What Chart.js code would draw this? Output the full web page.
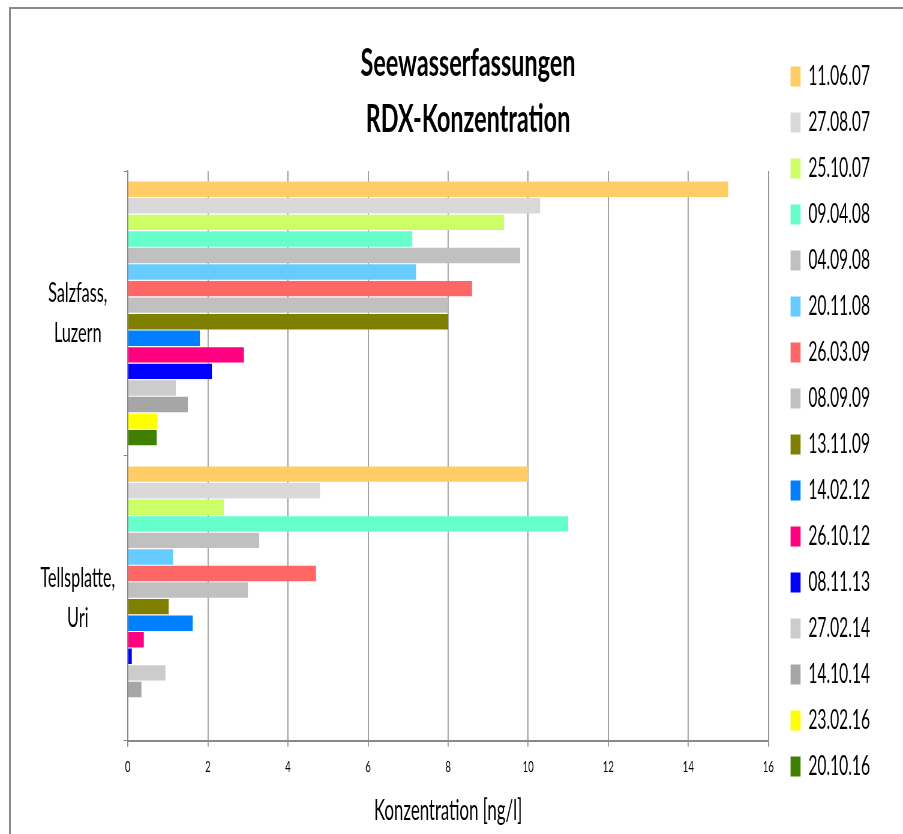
<!DOCTYPE html>
<html>
<head>
<meta charset="utf-8">
<script src="https://cdn.jsdelivr.net/npm/chart.js@4.4.1/dist/chart.umd.min.js"></script>
<style>
html, body { margin: 0; padding: 0; background: #fff; overflow: hidden; }
#wrap { position: absolute; left: 0; top: 0; width: 1505px; height: 834px; transform: scaleX(0.6); transform-origin: 0 0; }
#frame { position: absolute; left: 9px; top: 7px; width: 900px; height: 840px; border-left: 2px solid #8a8a8a; border-top: 2px solid #8a8a8a; pointer-events: none; }
</style>
</head>
<body>
<div id="wrap"><canvas id="myChart"></canvas></div>
<div id="frame"></div>
<script>
// the original is squeezed sideways, so the canvas is drawn wide and compressed
const SQ = 0.6;

const sites = [['Salzfass,', 'Luzern'], ['Tellsplatte,', 'Uri']];
const dates = ['11.06.07', '27.08.07', '25.10.07', '09.04.08', '04.09.08', '20.11.08', '26.03.09', '08.09.09',
               '13.11.09', '14.02.12', '26.10.12', '08.11.13', '27.02.14', '14.10.14', '23.02.16', '20.10.16'];
const colors = ['#FFCC66', '#D9D9D9', '#CCFF66', '#66FFCC', '#C0C0C0', '#66CCFF', '#FF6666', '#C0C0C0',
                '#808000', '#0080FF', '#FF0080', '#0000FF', '#CCCCCC', '#A6A6A6', '#FFFF00', '#408000'];
const salzfass    = [15.0, 10.3, 9.4, 7.1, 9.8, 7.2, 8.6, 8.0, 8.0, 1.8, 2.9, 2.1, 1.2, 1.5, 0.74, 0.72];
const tellsplatte = [10.0, 4.8, 2.4, 11.0, 3.28, 1.13, 4.7, 3.0, 1.02, 1.62, 0.4, 0.1, 0.94, 0.34, null, null];
const xMin = 0, xMax = 16, xStep = 2;

const datasets = dates.map((d, i) => ({
    label: d,
    data: [salzfass[i], tellsplatte[i]],
    backgroundColor: colors[i],
    borderWidth: 0,
    categoryPercentage: 0.93,
    barPercentage: 0.93
}));

Chart.defaults.font.family = 'Lato, "Noto Sans", sans-serif';
Chart.defaults.color = '#000';

// title is centred over plot + legend, not over the whole canvas
const shiftTitle = {
    id: 'shiftTitle',
    afterLayout(chart) {
        if (chart.titleBlock) chart.titleBlock.left += 100;
    }
};

const ctx = document.getElementById('myChart');
const myChart = new Chart(ctx, {
    type: 'bar',
    data: { labels: sites, datasets: datasets },
    plugins: [shiftTitle],
    options: {
        indexAxis: 'y',
        responsive: true,
        maintainAspectRatio: false,
        animation: false,
        layout: { padding: { left: 0, right: 45, top: 0, bottom: 8 } },
        plugins: {
            tooltip: { enabled: false },
            title: {
                display: true,
                text: ['Seewasserfassungen', 'RDX-Konzentration'],
                color: '#000',
                font: { size: 39, weight: 'bold', lineHeight: '56px' },
                padding: { top: 35, bottom: 24 }
            },
            legend: {
                position: 'right',
                align: 'center',
                labels: {
                    boxWidth: 10 / SQ,
                    boxHeight: 20,
                    padding: 37,
                    color: '#000',
                    font: { size: 26, lineHeight: '9px' },
                    generateLabels: function(chart) {
                        const items = Chart.defaults.plugins.legend.labels.generateLabels(chart);
                        items.forEach(it => { it.text = [it.text]; });
                        return items;
                    }
                }
            }
        },
        scales: {
            x: {
                min: xMin,
                max: xMax,
                ticks: { stepSize: xStep, color: '#000', font: { size: 16 }, padding: 10 },
                grid: { color: '#888', lineWidth: 1 / SQ, tickLength: 6 },
                border: { color: '#888', width: 2 },
                title: {
                    display: true,
                    text: 'Konzentration [ng/l]',
                    color: '#000',
                    font: { size: 28, lineHeight: '20px' },
                    padding: { top: 15, bottom: 5 }
                }
            },
            y: {
                ticks: { color: '#000', font: { size: 27, lineHeight: '40px' }, crossAlign: 'center', padding: 14 },
                grid: { drawOnChartArea: false, drawTicks: true, tickLength: 7, offset: true, color: '#888', lineWidth: 1 },
                border: { color: '#888', width: 1 / SQ },
                afterFit: function(scale) { scale.width = 213; }
            }
        }
    }
});
</script>
</body>
</html>
